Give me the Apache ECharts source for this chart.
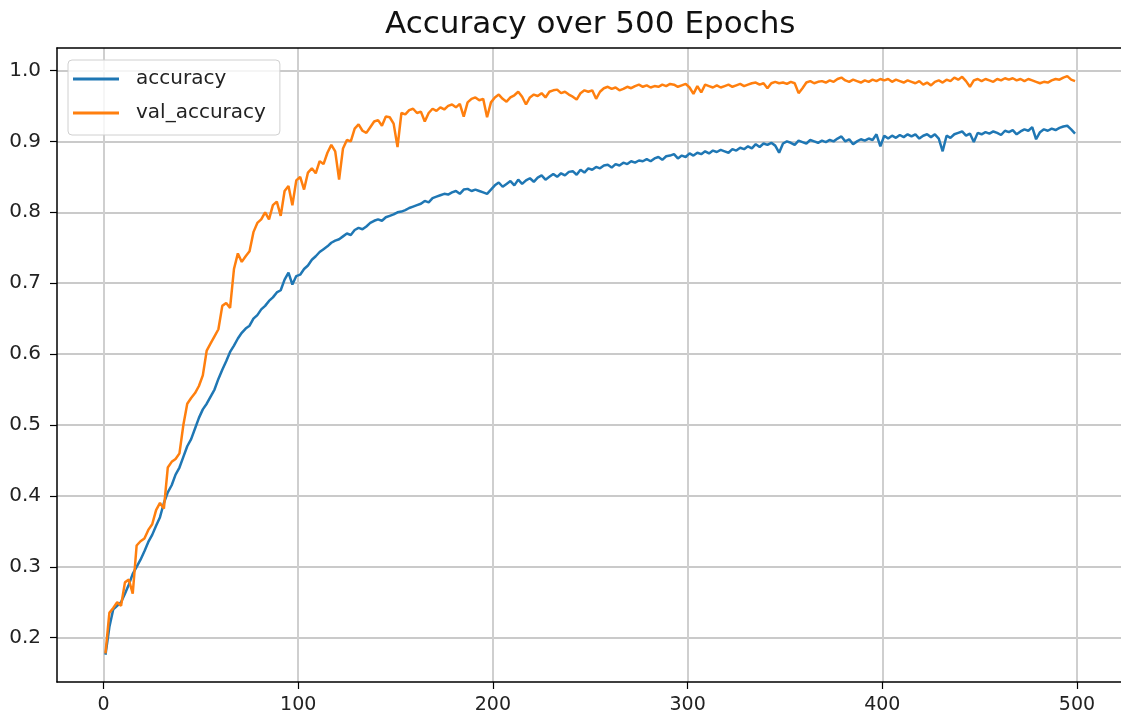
<!DOCTYPE html>
<html><head><meta charset="utf-8">
<script src="https://cdn.jsdelivr.net/npm/echarts@6/dist/echarts.min.js"></script>
<style>html,body{margin:0;padding:0;background:#fff}#c{width:1121px;height:724px}</style>
</head><body><div id="c"></div>
<script>
const TITLE = 'Accuracy over 500 Epochs';
const SERIES_NAMES = ['accuracy', 'val_accuracy'];
const EPOCH_FIRST = 1, EPOCH_STEP = 2;
const X_TICKS = [0, 100, 200, 300, 400, 500];
const Y_TICKS = [0.2, 0.3, 0.4, 0.5, 0.6, 0.7, 0.8, 0.9, 1.0];

const accuracy = [
0.176,0.215,0.240,0.245,0.250,0.262,0.275,0.290,0.300,0.310,
0.322,0.335,0.345,0.358,0.370,0.390,0.405,0.415,0.430,0.440,
0.455,0.470,0.480,0.495,0.510,0.522,0.530,0.540,0.550,0.565,
0.578,0.590,0.603,0.612,0.622,0.630,0.636,0.640,0.650,0.655,
0.663,0.668,0.675,0.680,0.687,0.690,0.705,0.715,0.698,0.710,
0.712,0.720,0.725,0.733,0.738,0.744,0.748,0.752,0.757,0.760,
0.762,0.766,0.770,0.768,0.775,0.778,0.776,0.780,0.785,0.788,
0.790,0.788,0.793,0.795,0.797,0.800,0.801,0.803,0.806,0.808,
0.810,0.812,0.816,0.814,0.820,0.822,0.824,0.826,0.825,0.828,
0.830,0.826,0.832,0.833,0.830,0.832,0.830,0.828,0.826,0.832,
0.838,0.842,0.836,0.840,0.844,0.838,0.846,0.840,0.845,0.848,
0.843,0.849,0.852,0.846,0.850,0.854,0.850,0.855,0.852,0.857,
0.858,0.853,0.860,0.856,0.862,0.860,0.864,0.862,0.866,0.867,
0.863,0.868,0.866,0.870,0.868,0.872,0.870,0.873,0.872,0.875,
0.872,0.876,0.878,0.874,0.879,0.880,0.882,0.876,0.880,0.878,
0.883,0.880,0.884,0.882,0.886,0.883,0.887,0.885,0.888,0.886,
0.884,0.889,0.887,0.891,0.889,0.893,0.890,0.896,0.892,0.897,
0.895,0.898,0.894,0.884,0.897,0.900,0.898,0.895,0.901,0.899,
0.897,0.902,0.900,0.898,0.901,0.899,0.902,0.900,0.904,0.907,
0.900,0.903,0.896,0.900,0.903,0.901,0.904,0.902,0.910,0.893,
0.908,0.904,0.908,0.905,0.909,0.906,0.910,0.907,0.910,0.904,
0.908,0.910,0.906,0.910,0.904,0.886,0.908,0.905,0.910,0.912,
0.914,0.908,0.911,0.899,0.912,0.910,0.913,0.911,0.914,0.912,
0.909,0.915,0.913,0.916,0.910,0.914,0.917,0.915,0.920,0.903,
0.913,0.917,0.915,0.918,0.916,0.919,0.921,0.922,0.917,0.911
];

const valAccuracy = [
0.178,0.235,0.242,0.250,0.245,0.278,0.282,0.262,0.330,0.336,
0.340,0.352,0.360,0.380,0.390,0.382,0.440,0.448,0.452,0.460,
0.500,0.530,0.538,0.545,0.555,0.570,0.605,0.615,0.625,0.635,
0.668,0.672,0.665,0.720,0.742,0.730,0.738,0.745,0.772,0.785,
0.790,0.800,0.790,0.810,0.815,0.795,0.830,0.837,0.810,0.845,
0.850,0.832,0.856,0.862,0.855,0.872,0.868,0.884,0.895,0.886,
0.846,0.890,0.902,0.900,0.918,0.924,0.915,0.912,0.920,0.928,
0.930,0.922,0.935,0.934,0.925,0.892,0.940,0.938,0.944,0.946,
0.940,0.942,0.928,0.940,0.946,0.943,0.948,0.945,0.950,0.952,
0.948,0.953,0.935,0.955,0.960,0.962,0.958,0.960,0.934,0.955,
0.962,0.966,0.960,0.956,0.962,0.965,0.970,0.963,0.952,0.962,
0.966,0.964,0.968,0.962,0.970,0.972,0.973,0.968,0.970,0.966,
0.963,0.959,0.968,0.972,0.970,0.972,0.960,0.970,0.975,0.977,
0.974,0.976,0.972,0.974,0.977,0.975,0.978,0.980,0.977,0.979,
0.976,0.978,0.977,0.980,0.978,0.981,0.980,0.977,0.979,0.981,
0.976,0.967,0.978,0.969,0.980,0.978,0.976,0.979,0.976,0.978,
0.980,0.977,0.979,0.981,0.978,0.980,0.982,0.983,0.980,0.982,
0.975,0.982,0.984,0.982,0.983,0.981,0.984,0.982,0.968,0.975,
0.983,0.985,0.982,0.984,0.985,0.983,0.986,0.984,0.988,0.990,
0.986,0.984,0.987,0.985,0.983,0.986,0.984,0.987,0.985,0.988,
0.986,0.988,0.984,0.987,0.985,0.983,0.986,0.984,0.982,0.985,
0.980,0.983,0.979,0.984,0.986,0.983,0.987,0.985,0.990,0.987,
0.991,0.985,0.977,0.986,0.988,0.985,0.988,0.986,0.984,0.988,
0.986,0.989,0.987,0.989,0.986,0.988,0.985,0.988,0.986,0.984,
0.982,0.984,0.983,0.986,0.988,0.987,0.990,0.992,0.987,0.985
];

const toPairs = arr => arr.map((v, i) => [EPOCH_FIRST + i * EPOCH_STEP, v]);
const FONT = 'DejaVu Sans';

const chart = echarts.init(document.getElementById('c'), null, {renderer: 'canvas'});
chart.setOption({
  animation: false,
  backgroundColor: '#ffffff',
  title: {
    text: TITLE, left: 380, top: 4,
    textStyle: {fontFamily: FONT, fontSize: 31, fontWeight: 'normal', color: '#111'}
  },
  legend: {
    orient: 'vertical', left: 68, top: 60,
    padding: [8, 14, 11, 5], itemGap: 12,
    itemWidth: 46, itemHeight: 3, icon: 'rect',
    backgroundColor: 'rgba(255,255,255,0.8)',
    borderColor: '#d0d0d0', borderWidth: 1, borderRadius: 4,
    textStyle: {fontFamily: FONT, fontSize: 20, color: '#222', lineHeight: 22, padding: [0, 0, 0, 12]},
    data: SERIES_NAMES
  },
  grid: {left: 57, top: 48, right: 0, bottom: 42, containLabel: false},
  xAxis: [{
    type: 'value', min: -23.9, max: 522.6,
    axisLine: {show: true, onZero: false, lineStyle: {color: '#000', width: 1.5}},
    axisTick: {show: true, length: 7, lineStyle: {color: '#000', width: 1.2}, customValues: X_TICKS},
    axisLabel: {fontFamily: FONT, fontSize: 19, color: '#222', margin: 14, customValues: X_TICKS},
    splitLine: {show: true, lineStyle: {color: '#cfcfcf', width: 2}}
  }, {
    type: 'value', position: 'top', min: -23.9, max: 522.6,
    axisLine: {show: true, onZero: false, lineStyle: {color: '#000', width: 1.5}},
    axisTick: {show: false}, axisLabel: {show: false}, splitLine: {show: false}
  }],
  yAxis: {
    type: 'value', min: 0.1375, max: 1.0317,
    axisLine: {show: true, onZero: false, lineStyle: {color: '#000', width: 1.5}},
    axisTick: {show: true, length: 7, lineStyle: {color: '#000', width: 1.2}, customValues: Y_TICKS},
    axisLabel: {fontFamily: FONT, fontSize: 20, color: '#222', margin: 16, customValues: Y_TICKS,
      formatter: v => v.toFixed(1)},
    splitLine: {show: true, lineStyle: {color: '#b8b8b8', width: 1.5}}
  },
  series: [{
    name: SERIES_NAMES[0], type: 'line', xAxisIndex: 0, data: toPairs(accuracy),
    showSymbol: false, lineStyle: {color: '#1f77b4', width: 2.5}, itemStyle: {color: '#1f77b4'}, z: 3
  }, {
    name: SERIES_NAMES[1], type: 'line', xAxisIndex: 0, data: toPairs(valAccuracy),
    showSymbol: false, lineStyle: {color: '#ff7f0e', width: 2.5}, itemStyle: {color: '#ff7f0e'}, z: 4
  }]
});
</script></body></html>
